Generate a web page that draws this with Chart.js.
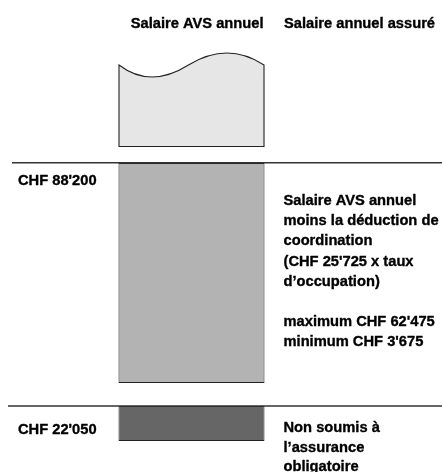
<!DOCTYPE html>
<html><head><meta charset="utf-8">
<script src="https://cdn.jsdelivr.net/npm/chart.js@4"></script>
<style>html,body{margin:0;padding:0;background:#fff;overflow:hidden}</style>
</head><body>
<canvas id="c" width="442" height="472" style="display:block;width:442px;height:472px"></canvas>
<script>
// ---- data ----
const columns = ['Salaire AVS annuel', 'Salaire annuel assuré'];
const thresholdLabels = ["CHF 88'200", "CHF 22'050"];
const thresholdLevels = [77.33, 16.5];            // schematic vertical levels of the thresholds
const bandNames = ['Salaire AVS annuel', 'Salaire coordonné', 'Non soumis'];
const bandRanges = [[81.25, 101.75], [22.25, 77.25], [7.75, 16.5]]; // schematic levels
const coordText = ['Salaire AVS annuel', 'moins la déduction de', 'coordination',
  "(CHF 25'725 x taux", 'd’occupation)', '', "maximum CHF 62'475", "minimum CHF 3'675"];
const exemptText = ['Non soumis à', 'l’assurance', 'obligatoire'];

// ---- styles ----
const bandColors = ['#e6e6e6', '#b3b3b3', '#666666'];
const FONT = 'bold 14.7px "Liberation Sans", Arial, sans-serif';

function boldText(ctx, t, x, y) {
  ctx.fillText(t, x, y);
  ctx.strokeText(t, x, y);
}

const diagramPlugin = {
  id: 'diagram',
  afterDatasetsDraw(chart) {
    const ctx = chart.ctx, y = chart.scales.y, area = chart.chartArea;
    ctx.save();
    // wavy top box (dataset 0)
    const el = chart.getDatasetMeta(0).data[0];
    const w = el.width, left = el.x - w / 2, right = el.x + w / 2;
    const top = el.y, bot = el.base;
    const amp = Math.abs(y.getPixelForValue(0) - y.getPixelForValue(3));
    ctx.beginPath();
    ctx.moveTo(left + 0.5, top);
    ctx.quadraticCurveTo(left + 0.219 * w, top + 2 * amp, left + 0.479 * w, top);
    ctx.quadraticCurveTo(left + 0.747 * w, top - 2 * amp, right - 0.5, top);
    ctx.lineTo(right - 0.5, bot - 0.5);
    ctx.lineTo(left + 0.5, bot - 0.5);
    ctx.closePath();
    ctx.fillStyle = bandColors[0];
    ctx.fill();
    ctx.lineWidth = 1.1;
    ctx.strokeStyle = '#222';
    ctx.stroke();

    // threshold lines
    const lineStarts = [12, 8];
    ctx.strokeStyle = '#333';
    ctx.lineWidth = 1.5;
    thresholdLevels.forEach((lv, i) => {
      const py = y.getPixelForValue(lv);
      ctx.beginPath();
      ctx.moveTo(lineStarts[i], py);
      ctx.lineTo(area.right + 1, py);
      ctx.stroke();
    });

    // texts
    ctx.font = FONT;
    ctx.fillStyle = '#000';
    ctx.strokeStyle = '#000';
    ctx.lineWidth = 0.35;
    ctx.lineJoin = 'round';
    ctx.textBaseline = 'alphabetic';
    // column headers
    const x = chart.scales.x;
    ctx.textAlign = 'right';
    boldText(ctx, columns[0], right - 1, 28);
    const textX = x.getPixelForValue(1) - 74.5;
    ctx.textAlign = 'left';
    boldText(ctx, columns[1], textX + 0.5, 28);
    // threshold labels
    const labelOffsets = [22, 27.5];
    thresholdLabels.forEach((t, i) => {
      boldText(ctx, t, 18, y.getPixelForValue(thresholdLevels[i]) + labelOffsets[i]);
    });
    // explanatory blocks
    const l1 = y.getPixelForValue(thresholdLevels[0]);
    coordText.forEach((t, i) => boldText(ctx, t, textX, l1 + 42.3 + i * 20.2));
    const l2 = y.getPixelForValue(thresholdLevels[1]);
    exemptText.forEach((t, i) => boldText(ctx, t, textX, l2 + 26 + i * 19.6));
    ctx.restore();
  }
};

new Chart(document.getElementById('c'), {
  type: 'bar',
  data: {
    labels: columns,
    datasets: bandNames.map((n, i) => ({
      label: n,
      data: [bandRanges[i], null],
      backgroundColor: i === 0 ? 'rgba(0,0,0,0)' : bandColors[i],
      borderColor: i === 0 ? 'rgba(0,0,0,0)' : '#222',
      borderWidth: i === 0 ? 0 : 1,
      borderSkipped: false,
      grouped: false,
      barPercentage: 0.877,
      categoryPercentage: 1
    }))
  },
  options: {
    responsive: false,
    devicePixelRatio: 1,
    animation: false,
    layout: { padding: { left: 108.25, right: 0.75, top: 0, bottom: 0 } },
    plugins: { legend: { display: false }, tooltip: { enabled: false } },
    scales: {
      x: { display: false },
      y: { display: false, min: 0, max: 118 }
    }
  },
  plugins: [diagramPlugin]
});
</script>
</body></html>
